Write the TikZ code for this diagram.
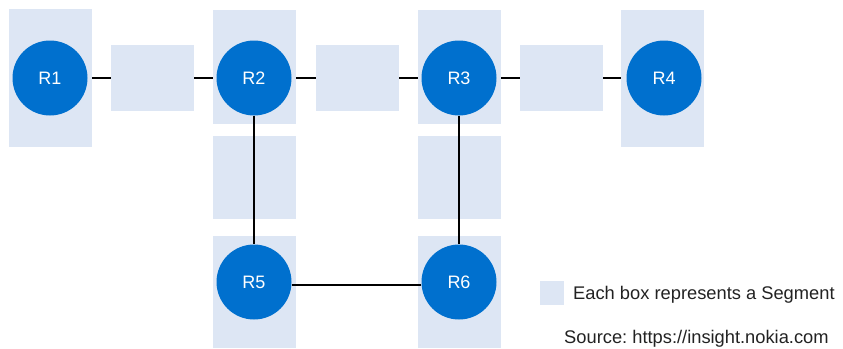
\documentclass[tikz,border=0pt]{standalone}
\usepackage{fontspec}
\setmainfont{Liberation Sans}
\definecolor{routerblue}{RGB}{0,112,206}
\definecolor{segfill}{RGB}{221,230,244}
\definecolor{legendtext}{RGB}{34,34,34}
\pgfdeclarelayer{wires}
\pgfdeclarelayer{boxes}
\pgfsetlayers{wires,boxes,main}
\frenchspacing
\begin{document}
\begin{tikzpicture}[x=1pt,y=-1pt,
  router/.style={circle, fill=routerblue, text=white, minimum size=75pt,
    inner sep=0pt, font=\fontsize{18}{20}\selectfont},
  segbox/.style={fill=segfill, draw=none, inner sep=0pt, anchor=north west},
  link/.style={line width=1.6pt, black},
  legendlabel/.style={text=legendtext, inner sep=0pt, anchor=base west,
    font=\fontsize{18.3}{20}\selectfont}]
\useasboundingbox (0,0) rectangle (843,348);

% routers
\node[router] (R1) at (50,78) {R1};
\node[router] (R2) at (254,78) {R2};
\node[router] (R3) at (459,78) {R3};
\node[router] (R4) at (664,78) {R4};
\node[router] (R5) at (254,282) {R5};
\node[router] (R6) at (459,282) {R6};

% segment boxes
\begin{pgfonlayer}{boxes}
\node[segbox, minimum width=83pt, minimum height=138pt] (bR1) at (9,9) {};
\node[segbox, minimum width=83pt, minimum height=114pt] (bR2) at (213,10) {};
\node[segbox, minimum width=83pt, minimum height=114pt] (bR3) at (418,10) {};
\node[segbox, minimum width=83pt, minimum height=137pt] (bR4) at (621,10) {};
\node[segbox, minimum width=83pt, minimum height=66pt] (s12) at (111,45) {};
\node[segbox, minimum width=83pt, minimum height=66pt] (s23) at (316,45) {};
\node[segbox, minimum width=83pt, minimum height=66pt] (s34) at (520,45) {};
\node[segbox, minimum width=83pt, minimum height=83pt] (s25) at (213,136) {};
\node[segbox, minimum width=83pt, minimum height=83pt] (s36) at (418,136) {};
\node[segbox, minimum width=83pt, minimum height=112pt] (bR5) at (213,236) {};
\node[segbox, minimum width=83pt, minimum height=112pt] (bR6) at (418,236) {};
\node[segbox, minimum width=24pt, minimum height=24pt] (key) at (540,281) {};
\end{pgfonlayer}

% top row links run beneath the segment boxes
\begin{pgfonlayer}{wires}
\draw[link] (R1) -- (R2);
\draw[link] (R2) -- (R3);
\draw[link] (R3) -- (R4);
\end{pgfonlayer}

% lower links
\draw[link] (R2) -- (R5);
\draw[link] (R3) -- (R6);
\draw[link] ([yshift=-3pt]R5.east) -- ([yshift=-3pt]R6.west);

% legend
\node[legendlabel] (keytext) at (573,299) {Each box represents a Segment};
\node[legendlabel] (source) at (564,343) {Source: https://insight.nokia.com};
\end{tikzpicture}
\end{document}
